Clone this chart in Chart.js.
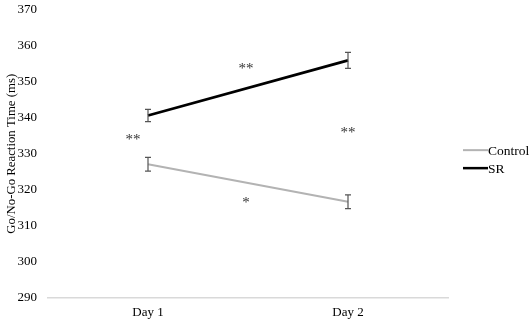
<!DOCTYPE html>
<html>
<head>
<meta charset="utf-8">
<script src="https://cdn.jsdelivr.net/npm/chart.js@4/dist/chart.umd.min.js"></script>
<style>
html,body{margin:0;padding:0;background:#fff;}
#wrap{width:529px;height:323px;position:relative;}
</style>
</head>
<body>
<div id="wrap"><canvas id="c" width="529" height="323"></canvas></div>
<script>
const categories = ['Day 1', 'Day 2'];
const seriesNames = ['Control', 'SR'];
const controlValues = [327.1, 316.7];
const srValues = [340.6, 355.9];
const controlErrors = [1.9, 1.9];
const srErrors = [1.7, 2.2];
const yTicks = [290, 300, 310, 320, 330, 340, 350, 360, 370];
const sigLabels = ['**', '**', '**', '*'];
const sigX = [-0.075, 0.49, 1.0, 0.49];
const sigY = [334.6, 354.4, 336.5, 317.1];

const FONT = "'Liberation Serif', 'Times New Roman', serif";
const colors = ['#b3b3b3', '#000000'];

const extras = {
  id: 'extras',
  afterDatasetsDraw(chart) {
    const ctx = chart.ctx;
    const xs = chart.scales.x, ys = chart.scales.y;
    const errs = [controlErrors, srErrors];
    ctx.save();
    ctx.strokeStyle = '#555555';
    ctx.lineWidth = 1.2;
    chart.data.datasets.forEach((ds, di) => {
      ds.data.forEach((v, i) => {
        const x = xs.getPixelForValue(i);
        const yt = ys.getPixelForValue(v + errs[di][i]);
        const yb = ys.getPixelForValue(v - errs[di][i]);
        ctx.beginPath();
        ctx.moveTo(x, yt); ctx.lineTo(x, yb);
        ctx.moveTo(x - 3, yt); ctx.lineTo(x + 3, yt);
        ctx.moveTo(x - 3, yb); ctx.lineTo(x + 3, yb);
        ctx.stroke();
      });
    });
    ctx.fillStyle = '#333333';
    ctx.font = '15px ' + FONT;
    ctx.textAlign = 'center';
    ctx.textBaseline = 'middle';
    const step = xs.getPixelForValue(1) - xs.getPixelForValue(0);
    sigLabels.forEach((s, k) => {
      const x = xs.getPixelForValue(0) + sigX[k] * step;
      const y = ys.getPixelForValue(sigY[k]);
      ctx.fillText(s, x, y + 3);
    });
    const lx = chart.chartArea.right + 15;
    const y0 = ys.getPixelForValue(331.0);
    ctx.textAlign = 'left';
    ctx.fillStyle = '#000';
    ctx.font = '13.5px ' + FONT;
    seriesNames.forEach((n, k) => {
      const y = y0 + k * 18;
      ctx.strokeStyle = colors[k];
      ctx.lineWidth = k === 1 ? 2.5 : 2;
      ctx.beginPath();
      ctx.moveTo(lx, y); ctx.lineTo(lx + 25, y);
      ctx.stroke();
      ctx.fillText(n, lx + 25, y + 1);
    });
    ctx.restore();
  }
};

new Chart(document.getElementById('c'), {
  type: 'line',
  data: {
    labels: categories,
    datasets: [
      { label: seriesNames[0], data: controlValues, borderColor: colors[0], backgroundColor: colors[0], borderWidth: 2.2, pointRadius: 0, tension: 0 },
      { label: seriesNames[1], data: srValues, borderColor: colors[1], backgroundColor: colors[1], borderWidth: 2.8, pointRadius: 0, tension: 0 }
    ]
  },
  options: {
    responsive: false,
    animation: false,
    events: [],
    layout: { padding: { top: 9.5, right: 81, left: 0, bottom: 0 } },
    plugins: { legend: { display: false }, tooltip: { enabled: false } },
    scales: {
      x: {
        type: 'category',
        offset: true,
        grid: { display: false, drawTicks: false },
        border: { display: true, color: '#d9d9d9', width: 1.5 },
        ticks: { color: '#000', font: { family: FONT, size: 13 }, padding: 7 },
        afterFit(s) { s.height = 25; s.paddingLeft = 0; s.paddingRight = 0; }
      },
      y: {
        min: 290, max: 370,
        afterBuildTicks(s) { s.ticks = yTicks.map(v => ({ value: v })); },
        grid: { display: false, drawTicks: false },
        border: { display: false },
        ticks: { color: '#000', font: { family: FONT, size: 13 }, padding: 11 },
        title: { display: true, text: 'Go/No-Go Reaction Time (ms)', color: '#000', font: { family: FONT, size: 12.8 }, padding: { top: 4, bottom: 0 } },
        afterFit(s) { s.width = 48; s.paddingTop = 0; s.paddingBottom = 0; }
      }
    }
  },
  plugins: [extras]
});
</script>
</body>
</html>
